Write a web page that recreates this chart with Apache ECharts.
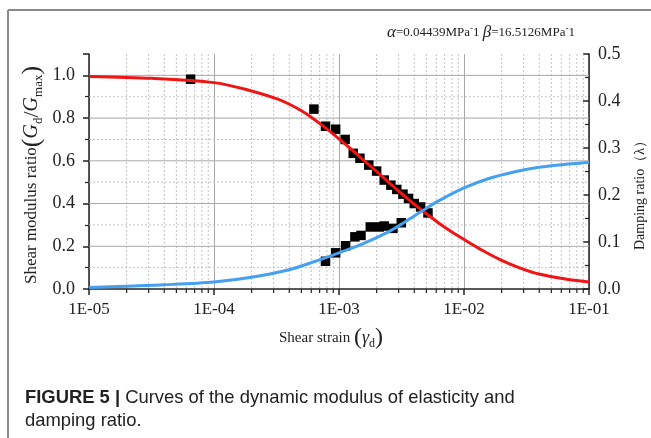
<!DOCTYPE html>
<html><head><meta charset="utf-8">
<script src="https://cdn.jsdelivr.net/npm/echarts@6/dist/echarts.min.js"></script>
<style>html,body{margin:0;padding:0;background:#fff}#c{width:651px;height:438px}</style>
</head><body><div id="c"></div>
<script>
// ---- data ----
const xTickLabels = ['1E-05', '1E-04', '1E-03', '1E-02', '1E-01'];
const leftTickLabels = ['0.0', '0.2', '0.4', '0.6', '0.8', '1.0'];
const rightTickLabels = ['0.0', '0.1', '0.2', '0.3', '0.4', '0.5'];

// fitted shear modulus ratio curve (left axis)
const modCurveStrain = [1e-5, 3.16e-5, 1e-4, 1.78e-4, 3.16e-4, 3.98e-4, 5.01e-4, 6.31e-4, 7.94e-4, 1e-3, 1.26e-3, 1.58e-3, 2.0e-3, 2.51e-3, 3.16e-3, 3.98e-3, 5.01e-3, 6.31e-3, 7.94e-3, 1e-2, 1.41e-2, 2.0e-2, 2.82e-2, 3.98e-2, 6.31e-2, 1e-1];
const modCurveRatio = [0.995, 0.986, 0.966, 0.935, 0.891, 0.866, 0.834, 0.795, 0.751, 0.703, 0.653, 0.602, 0.550, 0.498, 0.447, 0.398, 0.352, 0.308, 0.268, 0.232, 0.180, 0.134, 0.098, 0.070, 0.048, 0.033];

// fitted damping ratio curve (right axis)
const dampCurveStrain = [1e-5, 2e-5, 3.98e-5, 1e-4, 2e-4, 3.98e-4, 6.31e-4, 1e-3, 1.58e-3, 2.51e-3, 3.16e-3, 3.98e-3, 5.01e-3, 6.31e-3, 1e-2, 1.58e-2, 2.51e-2, 3.98e-2, 6.31e-2, 1e-1];
const dampCurveRatio = [0.003, 0.006, 0.009, 0.015, 0.025, 0.041, 0.058, 0.077, 0.097, 0.122, 0.138, 0.155, 0.172, 0.188, 0.215, 0.235, 0.249, 0.259, 0.265, 0.269];

// test points
const modTestStrain = [6.5e-5, 6.3e-4, 7.8e-4, 9.4e-4, 1.12e-3, 1.3e-3, 1.47e-3, 1.73e-3, 2.0e-3, 2.3e-3, 2.6e-3, 2.9e-3, 3.25e-3, 3.6e-3, 4.0e-3, 4.5e-3, 5.15e-3];
const modTestRatio = [0.982, 0.842, 0.762, 0.748, 0.70, 0.635, 0.612, 0.58, 0.552, 0.51, 0.486, 0.466, 0.444, 0.424, 0.40, 0.384, 0.356];
const dampTestStrain = [7.8e-4, 9.4e-4, 1.13e-3, 1.34e-3, 1.5e-3, 1.78e-3, 2.1e-3, 2.3e-3, 2.7e-3, 3.15e-3];
const dampTestRatio = [0.059, 0.077, 0.092, 0.111, 0.114, 0.132, 0.132, 0.134, 0.129, 0.141];

// minor grid positions
const minorStrain = [2e-5, 3e-5, 4e-5, 5e-5, 6e-5, 7e-5, 8e-5, 9e-5,
  2e-4, 3e-4, 4e-4, 5e-4, 6e-4, 7e-4, 8e-4, 9e-4,
  2e-3, 3e-3, 4e-3, 5e-3, 6e-3, 7e-3, 8e-3, 9e-3,
  2e-2, 3e-2, 4e-2, 5e-2, 6e-2, 7e-2, 8e-2, 9e-2];
const gridMajorY = [0.2, 0.4, 0.6, 0.8, 1.0];
const gridMinorY = [0.1, 0.3, 0.5, 0.7, 0.9];

const SERIF = '"Liberation Serif", "DejaVu Serif", serif';
const SANS = '"Liberation Sans", Arial, sans-serif';
const TXT = '#222';

const chart = echarts.init(document.getElementById('c'), null, {renderer: 'canvas'});

const zip = (a, b) => a.map((v, i) => [v, b[i]]);

chart.setOption({
  animation: false,
  backgroundColor: '#fff',
  grid: {left: 89, right: 62, top: 54, bottom: 149, containLabel: false},
  xAxis: {
    type: 'log', logBase: 10, min: 1e-5, max: 1e-1,
    axisLine: {show: true, lineStyle: {color: '#222', width: 1.5}},
    axisTick: {show: true, length: 6, lineStyle: {color: '#222', width: 1.5}},
    axisLabel: {
      margin: 12, color: TXT, fontFamily: SERIF, fontSize: 17,
      formatter: v => xTickLabels[Math.round(Math.log10(v)) + 5] || ''
    },
    splitLine: {show: true, lineStyle: {color: '#a8a8a8', width: 1}}
  },
  yAxis: [{
    type: 'value', min: 0, max: 1.1, interval: 0.2, position: 'left',
    axisLine: {show: true, lineStyle: {color: '#222', width: 1.5}},
    axisTick: {show: true, length: 6, lineStyle: {color: '#222', width: 1.5}},
    minorTick: {show: true, splitNumber: 2, length: 4, lineStyle: {color: '#222', width: 1.2}},
    axisLabel: {
      margin: 14, color: TXT, fontFamily: SERIF, fontSize: 18,
      formatter: v => { const i = Math.round(v / 0.2); return (Math.abs(v - i * 0.2) < 1e-6) ? (leftTickLabels[i] || '') : ''; }
    },
    splitLine: {show: false}
  }, {
    type: 'value', min: 0, max: 0.5, interval: 0.1, position: 'right',
    axisLine: {show: true, lineStyle: {color: '#222', width: 1.5}},
    axisTick: {show: true, inside: true, length: 6, lineStyle: {color: '#222', width: 1.5}},
    minorTick: {show: true, splitNumber: 2, length: 4, lineStyle: {color: '#222', width: 1.2}},
    axisLabel: {
      margin: 9, color: TXT, fontFamily: SERIF, fontSize: 18,
      formatter: v => rightTickLabels[Math.round(v * 10)] || ''
    },
    splitLine: {show: false}
  }],
  series: [
    {
      type: 'custom', name: 'minorX', xAxisIndex: 0, yAxisIndex: 0, clip: false, silent: true, z: 1,
      data: minorStrain.map(v => [v, 0]),
      renderItem: (params, api) => {
        const b = api.coord([api.value(0), 0]);
        const t = api.coord([api.value(0), 1.1]);
        return {type: 'group', children: [
          {type: 'line', shape: {x1: b[0], y1: t[1], x2: b[0], y2: b[1]}, style: {stroke: '#c4c4c4', lineWidth: 1, lineDash: [2, 2]}},
          {type: 'line', shape: {x1: b[0], y1: b[1], x2: b[0], y2: b[1] + 4}, style: {stroke: '#222', lineWidth: 1.2}}
        ]};
      }
    },
    {
      type: 'custom', name: 'gridY', xAxisIndex: 0, yAxisIndex: 0, clip: false, silent: true, z: 1,
      data: gridMajorY.map(v => [1e-5, v, 1]).concat(gridMinorY.map(v => [1e-5, v, 0])),
      renderItem: (params, api) => {
        const y = api.value(1);
        const a = api.coord([1e-5, y]);
        const b = api.coord([1e-1, y]);
        const major = api.value(2) === 1;
        return {type: 'line', shape: {x1: a[0], y1: a[1], x2: b[0], y2: b[1]},
          style: major ? {stroke: '#a8a8a8', lineWidth: 1} : {stroke: '#c4c4c4', lineWidth: 1, lineDash: [2, 2]}};
      }
    },
    {
      type: 'scatter', name: 'G test', xAxisIndex: 0, yAxisIndex: 0, z: 3,
      symbol: 'rect', symbolSize: 9.5, itemStyle: {color: '#000', opacity: 1},
      data: zip(modTestStrain, modTestRatio)
    },
    {
      type: 'scatter', name: 'damping test', xAxisIndex: 0, yAxisIndex: 1, z: 3,
      symbol: 'rect', symbolSize: 9.5, itemStyle: {color: '#000', opacity: 1},
      data: zip(dampTestStrain, dampTestRatio)
    },
    {
      type: 'line', name: 'G fit', xAxisIndex: 0, yAxisIndex: 0, z: 4,
      smooth: 0.3, showSymbol: false, lineStyle: {color: '#f01414', width: 3},
      data: zip(modCurveStrain, modCurveRatio)
    },
    {
      type: 'line', name: 'damping fit', xAxisIndex: 0, yAxisIndex: 1, z: 4,
      smooth: 0.3, showSymbol: false, lineStyle: {color: '#45a0f0', width: 3},
      data: zip(dampCurveStrain, dampCurveRatio)
    }
  ],
  graphic: [
    {type: 'line', shape: {x1: 8, y1: 10, x2: 651, y2: 10}, style: {stroke: '#8a8a8a', lineWidth: 2}},
    {type: 'line', shape: {x1: 8, y1: 10, x2: 8, y2: 438}, style: {stroke: '#8a8a8a', lineWidth: 2}},
    {
      type: 'text', x: 387, y: 33,
      style: {
        text: '{i|α}{n|=0.04439MPa}{sup|-}{n|1 }{i|β}{n|=16.5126MPa}{sup|-}{n|1}',
        align: 'left', verticalAlign: 'middle',
        rich: {
          i: {fontFamily: SERIF, fontStyle: 'italic', fontSize: 17, fill: TXT, color: TXT},
          n: {fontFamily: SERIF, fontSize: 13, fill: TXT, color: TXT},
          sup: {fontFamily: SERIF, fontSize: 9, fill: TXT, color: TXT, verticalAlign: 'top'}
        }
      }
    },
    {
      type: 'text', x: 32, y: 175, rotation: Math.PI / 2,
      style: {
        text: '{a|Shear modulus ratio}{p|(}{g|G}{s|d}{sl|/}{g|G}{s|max}{p|)}',
        align: 'center', verticalAlign: 'middle',
        rich: {
          a: {fontFamily: SERIF, fontSize: 17, fill: TXT, color: TXT},
          p: {fontFamily: SERIF, fontSize: 26, fill: TXT, color: TXT},
          g: {fontFamily: SERIF, fontStyle: 'italic', fontSize: 20, fill: TXT, color: TXT},
          s: {fontFamily: SERIF, fontSize: 13, fill: TXT, color: TXT, verticalAlign: 'bottom'},
          sl: {fontFamily: SERIF, fontSize: 22, fill: TXT, color: TXT}
        }
      }
    },
    {
      type: 'text', x: 640, y: 192, rotation: Math.PI / 2,
      style: {
        text: 'Damping ratio（λ）', align: 'center', verticalAlign: 'middle',
        font: '14px ' + SERIF, fill: TXT
      }
    },
    {
      type: 'text', x: 331, y: 338,
      style: {
        text: '{a|Shear strain }{p|(}{g|γ}{s|d}{p|)}',
        align: 'center', verticalAlign: 'middle',
        rich: {
          a: {fontFamily: SERIF, fontSize: 15, fill: TXT, color: TXT},
          p: {fontFamily: SERIF, fontSize: 24, fill: TXT, color: TXT},
          g: {fontFamily: SERIF, fontStyle: 'italic', fontSize: 18, fill: TXT, color: TXT},
          s: {fontFamily: SERIF, fontSize: 12, fill: TXT, color: TXT, verticalAlign: 'bottom'}
        }
      }
    },
    {
      type: 'text', x: 25, y: 398,
      style: {
        text: '{b|FIGURE 5 |}{r| Curves of the dynamic modulus of elasticity and}',
        align: 'left', verticalAlign: 'middle',
        rich: {
          b: {fontFamily: SANS, fontWeight: 'bold', fontSize: 18.4, fill: '#222', color: '#222'},
          r: {fontFamily: SANS, fontSize: 18.4, fill: '#222', color: '#222'}
        }
      }
    },
    {
      type: 'text', x: 25, y: 421,
      style: {text: 'damping ratio.', align: 'left', verticalAlign: 'middle', font: '18.4px ' + SANS, fill: '#222'}
    }
  ]
});
</script>
</body></html>
